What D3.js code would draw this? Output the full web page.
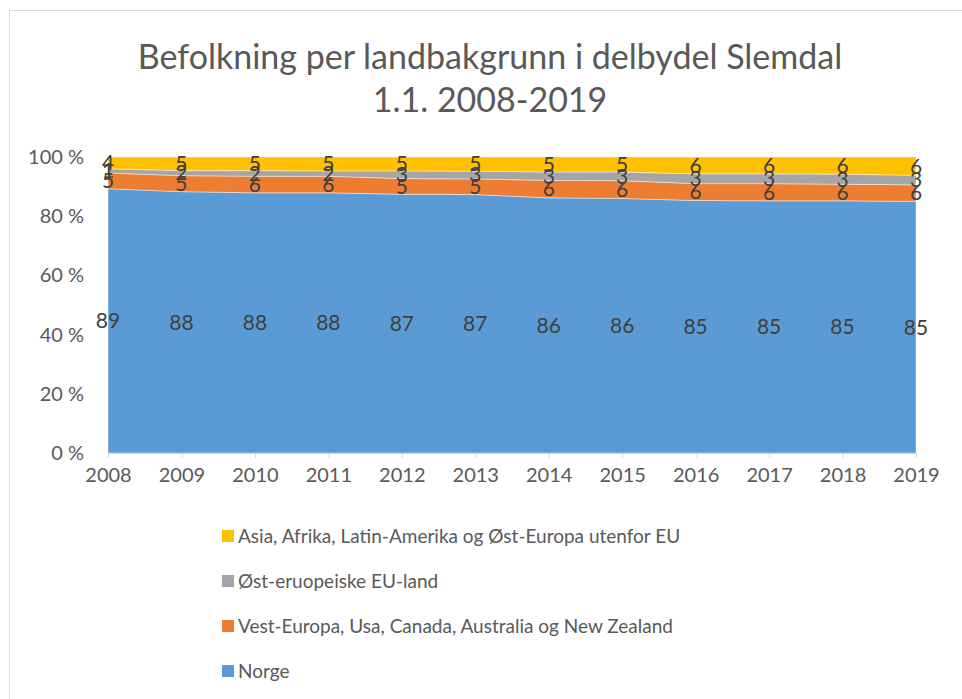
<!DOCTYPE html>
<html><head><meta charset="utf-8">
<script src="https://cdn.jsdelivr.net/npm/d3@7/dist/d3.min.js"></script>
<style>body{margin:0;background:#fff;}svg{display:block;font-family:Lato, "Noto Sans", sans-serif;}</style>
</head><body><svg id="c" width="962" height="699"></svg>
<script>
const years = ["2008","2009","2010","2011","2012","2013","2014","2015","2016","2017","2018","2019"];
const norge = [89.3,88.3,87.9,87.9,87.4,87.3,86.2,86.0,85.3,85.2,85.2,85.0];
const vest  = [5.3,5.4,5.6,5.6,5.3,5.3,5.9,6.0,5.7,5.8,5.6,5.6];
const ostEU = [1.4,1.7,1.9,1.8,2.6,2.6,2.8,2.9,3.3,3.3,3.4,3.2];
const asia  = [4.0,4.6,4.6,4.7,4.7,4.8,5.1,5.1,5.7,5.7,5.8,6.2];
const seriesNames = ["Norge","Vest-Europa, Usa, Canada, Australia og New Zealand","Øst-eruopeiske EU-land","Asia, Afrika, Latin-Amerika og Øst-Europa utenfor EU"];
const colors = ["#5B9BD5","#ED7D31","#A5A5A5","#FFC000"];
const yTicks = [0,0.2,0.4,0.6,0.8,1.0];
const titleLines = ["Befolkning per landbakgrunn i delbydel Slemdal","1.1. 2008-2019"];

const svg = d3.select("#c");
svg.append("rect").attr("x",9.5).attr("y",10.5).attr("width",1000).attr("height",1000)
  .attr("fill","#fff").attr("stroke","#D9D9D9").attr("stroke-width",1);

const table = years.map((y,i)=>({year:y, s0:norge[i], s1:vest[i], s2:ostEU[i], s3:asia[i]}));
const keys = ["s0","s1","s2","s3"];
const stack = d3.stack().keys(keys).offset(d3.stackOffsetExpand);
const layers = stack(table);

const x = d3.scalePoint().domain(years).range([108,916]);
const y = d3.scaleLinear().domain([0,1]).range([453,157]);

// title
svg.append("g").selectAll("text").data(titleLines).join("text")
  .attr("x",490).attr("y",(d,i)=>69+i*43).attr("text-anchor","middle")
  .attr("font-size",34).attr("fill","#595959").text(d=>d);

const area = d3.area().x((d,i)=>x(years[i])).y0(d=>y(d[0])).y1(d=>y(d[1]));
svg.append("g").selectAll("path").data(layers).join("path")
  .attr("d",area).attr("fill",(d,i)=>colors[i]).attr("stroke","#fff").attr("stroke-width",0.6).attr("stroke-opacity",0.7);

// axes
const yAxis = d3.axisLeft(y).tickValues(yTicks).tickFormat(d=>Math.round(d*100)+" %").tickSize(0).tickPadding(0);
const gy = svg.append("g").attr("transform","translate(84,0)").call(yAxis);
gy.select(".domain").remove();
gy.selectAll("text").attr("font-size",20).attr("fill","#595959").attr("font-family","Lato, sans-serif");

const xAxis = d3.axisBottom(x).tickSize(5).tickPadding(10);
const gx = svg.append("g").attr("transform","translate(0,453)").call(xAxis);
gx.select(".domain").attr("stroke","#D9D9D9");
gx.selectAll("line").attr("stroke","#D9D9D9");
gx.selectAll("text").attr("font-size",20).attr("fill","#595959").attr("font-family","Lato, sans-serif");

// data labels
const lab = svg.append("g");
layers.forEach((layer,li)=>{
  lab.selectAll(null).data(layer).join("text")
    .attr("x",(d,i)=>x(years[i])).attr("y",d=>y((d[0]+d[1])/2))
    .attr("dy","0.35em").attr("text-anchor","middle")
    .attr("font-size",21).attr("fill","#404040")
    .text(d=>d3.format(".0f")((d[1]-d[0])*100));
});

// legend
const legOrder = [3,2,1,0];
const lg = svg.append("g").selectAll("g").data(legOrder).join("g")
  .attr("transform",(d,i)=>`translate(222,${536+i*45})`);
lg.append("rect").attr("x",0).attr("y",-6).attr("width",12).attr("height",12).attr("fill",d=>colors[d]);
lg.append("text").attr("x",16).attr("y",0).attr("dy","0.35em").attr("font-size",19).attr("fill","#595959").text(d=>seriesNames[d]);
</script></body></html>
